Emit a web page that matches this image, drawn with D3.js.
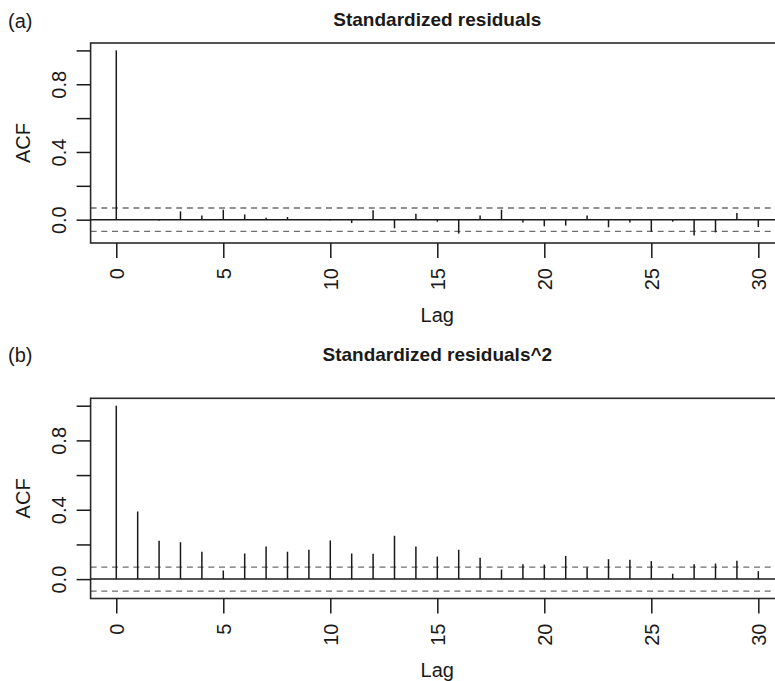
<!DOCTYPE html>
<html>
<head>
<meta charset="utf-8">
<script src="https://cdn.jsdelivr.net/npm/d3@7"></script>
<style>
  html, body { margin: 0; padding: 0; background: #fff; }
  svg { display: block; font-family: "Liberation Sans", Arial, sans-serif; }
</style>
</head>
<body>
<svg id="chart" width="775" height="681"></svg>
<script>
// ---- data ----
const lags = d3.range(0, 31);
const acfResid = [1.0, 0.003, -0.005, 0.049, 0.025, 0.059, 0.031, 0.012, 0.016, 0.004,
  -0.004, -0.020, 0.055, -0.051, 0.035, -0.012, -0.082, 0.024, 0.059, -0.016,
  -0.039, -0.035, 0.024, -0.045, -0.016, -0.071, -0.012, -0.094, -0.075, 0.039, -0.043];
const acfResidSq = [1.0, 0.39, 0.221, 0.213, 0.158, 0.05, 0.148, 0.188, 0.158, 0.169,
  0.223, 0.148, 0.146, 0.25, 0.188, 0.13, 0.169, 0.123, 0.055, 0.086,
  0.084, 0.134, 0.067, 0.115, 0.111, 0.104, 0.031, 0.086, 0.09, 0.106, 0.046];
const confLimit = 0.069;
const xTicks = [0, 5, 10, 15, 20, 25, 30];
const yTicks = [0, 0.2, 0.4, 0.6, 0.8, 1.0];
const yLabelTicks = [0, 0.4, 0.8];
const panels = [
  { tag: "(a)", title: "Standardized residuals", values: acfResid,
    boxTop: 43, boxBottom: 243, titleY: 26, tagY: 28, lagY: 322 },
  { tag: "(b)", title: "Standardized residuals^2", values: acfResidSq,
    boxTop: 398.3, boxBottom: 598.5, titleY: 361, tagY: 362, lagY: 677 }
];

const svg = d3.select("#chart");
const ink = "#1a1a1a";
const fs = 20;

const x = d3.scaleLinear().domain([-1.2, 31.2]).range([90.6, 784]);

panels.forEach(p => {
  const lo = Math.min(d3.min(p.values), -confLimit);
  const hi = Math.max(d3.max(p.values), confLimit);
  const pad = (hi - lo) * 0.04;
  const y = d3.scaleLinear().domain([lo - pad, hi + pad]).range([p.boxBottom, p.boxTop]);
  const g = svg.append("g");

  // confidence lines
  [confLimit, -confLimit].forEach(c => {
    g.append("line")
      .attr("x1", x.range()[0]).attr("x2", x.range()[1])
      .attr("y1", y(c)).attr("y2", y(c))
      .attr("stroke", "#6e6e6e").attr("stroke-width", 1.3)
      .attr("stroke-dasharray", "6,4.7");
  });
  // zero line
  g.append("line")
    .attr("x1", x.range()[0]).attr("x2", x.range()[1])
    .attr("y1", y(0)).attr("y2", y(0))
    .attr("stroke", ink).attr("stroke-width", 1.5);

  // bars
  g.selectAll("line.bar").data(lags).join("line")
    .attr("class", "bar")
    .attr("x1", d => x(d)).attr("x2", d => x(d))
    .attr("y1", y(0)).attr("y2", d => y(p.values[d]))
    .attr("stroke", ink).attr("stroke-width", 1.5);

  // box
  g.append("rect")
    .attr("x", x.range()[0]).attr("y", p.boxTop)
    .attr("width", x.range()[1] - x.range()[0]).attr("height", p.boxBottom - p.boxTop)
    .attr("fill", "none").attr("stroke", "#2a2a2a").attr("stroke-width", 1.6);

  // y axis
  const yAxis = d3.axisLeft(y).tickValues(yTicks).tickSize(14)
    .tickFormat(d => yLabelTicks.some(v => Math.abs(v - d) < 1e-9) ? d3.format(".1f")(d) : "");
  const ya = g.append("g").attr("transform", `translate(${x.range()[0]},0)`).call(yAxis);
  ya.select(".domain").remove();
  ya.selectAll(".tick line").attr("stroke", ink).attr("stroke-width", 1.5);
  ya.selectAll(".tick text")
    .attr("font-size", fs).attr("fill", ink)
    .attr("text-anchor", "middle")
    .attr("x", null).attr("dy", null)
    .attr("transform", "translate(-32,0) rotate(-90) translate(0,7)");

  // x axis
  const xAxis = d3.axisBottom(x).tickValues(xTicks).tickSize(15).tickFormat(d3.format("d"));
  const xa = g.append("g").attr("transform", `translate(0,${p.boxBottom})`).call(xAxis);
  xa.select(".domain").remove();
  xa.selectAll(".tick line").attr("stroke", ink).attr("stroke-width", 1.5);
  xa.selectAll(".tick text")
    .attr("font-size", fs).attr("fill", ink)
    .attr("text-anchor", "end")
    .attr("y", null).attr("dy", null)
    .attr("transform", "translate(7,25) rotate(-90)");

  // axis titles
  g.append("text").attr("x", (x.range()[0] + x.range()[1]) / 2).attr("y", p.lagY)
    .attr("text-anchor", "middle").attr("font-size", fs).attr("fill", ink).text("Lag");
  g.append("text")
    .attr("transform", `translate(30,${(p.boxTop + p.boxBottom) / 2}) rotate(-90)`)
    .attr("text-anchor", "middle").attr("font-size", fs).attr("fill", ink).text("ACF");

  // title and tag
  g.append("text").attr("x", (x.range()[0] + x.range()[1]) / 2).attr("y", p.titleY)
    .attr("text-anchor", "middle").attr("font-size", 19).attr("font-weight", "bold")
    .attr("fill", ink).text(p.title);
  g.append("text").attr("x", 8).attr("y", p.tagY)
    .attr("font-size", fs).attr("fill", ink).text(p.tag);
});
</script>
</body>
</html>
